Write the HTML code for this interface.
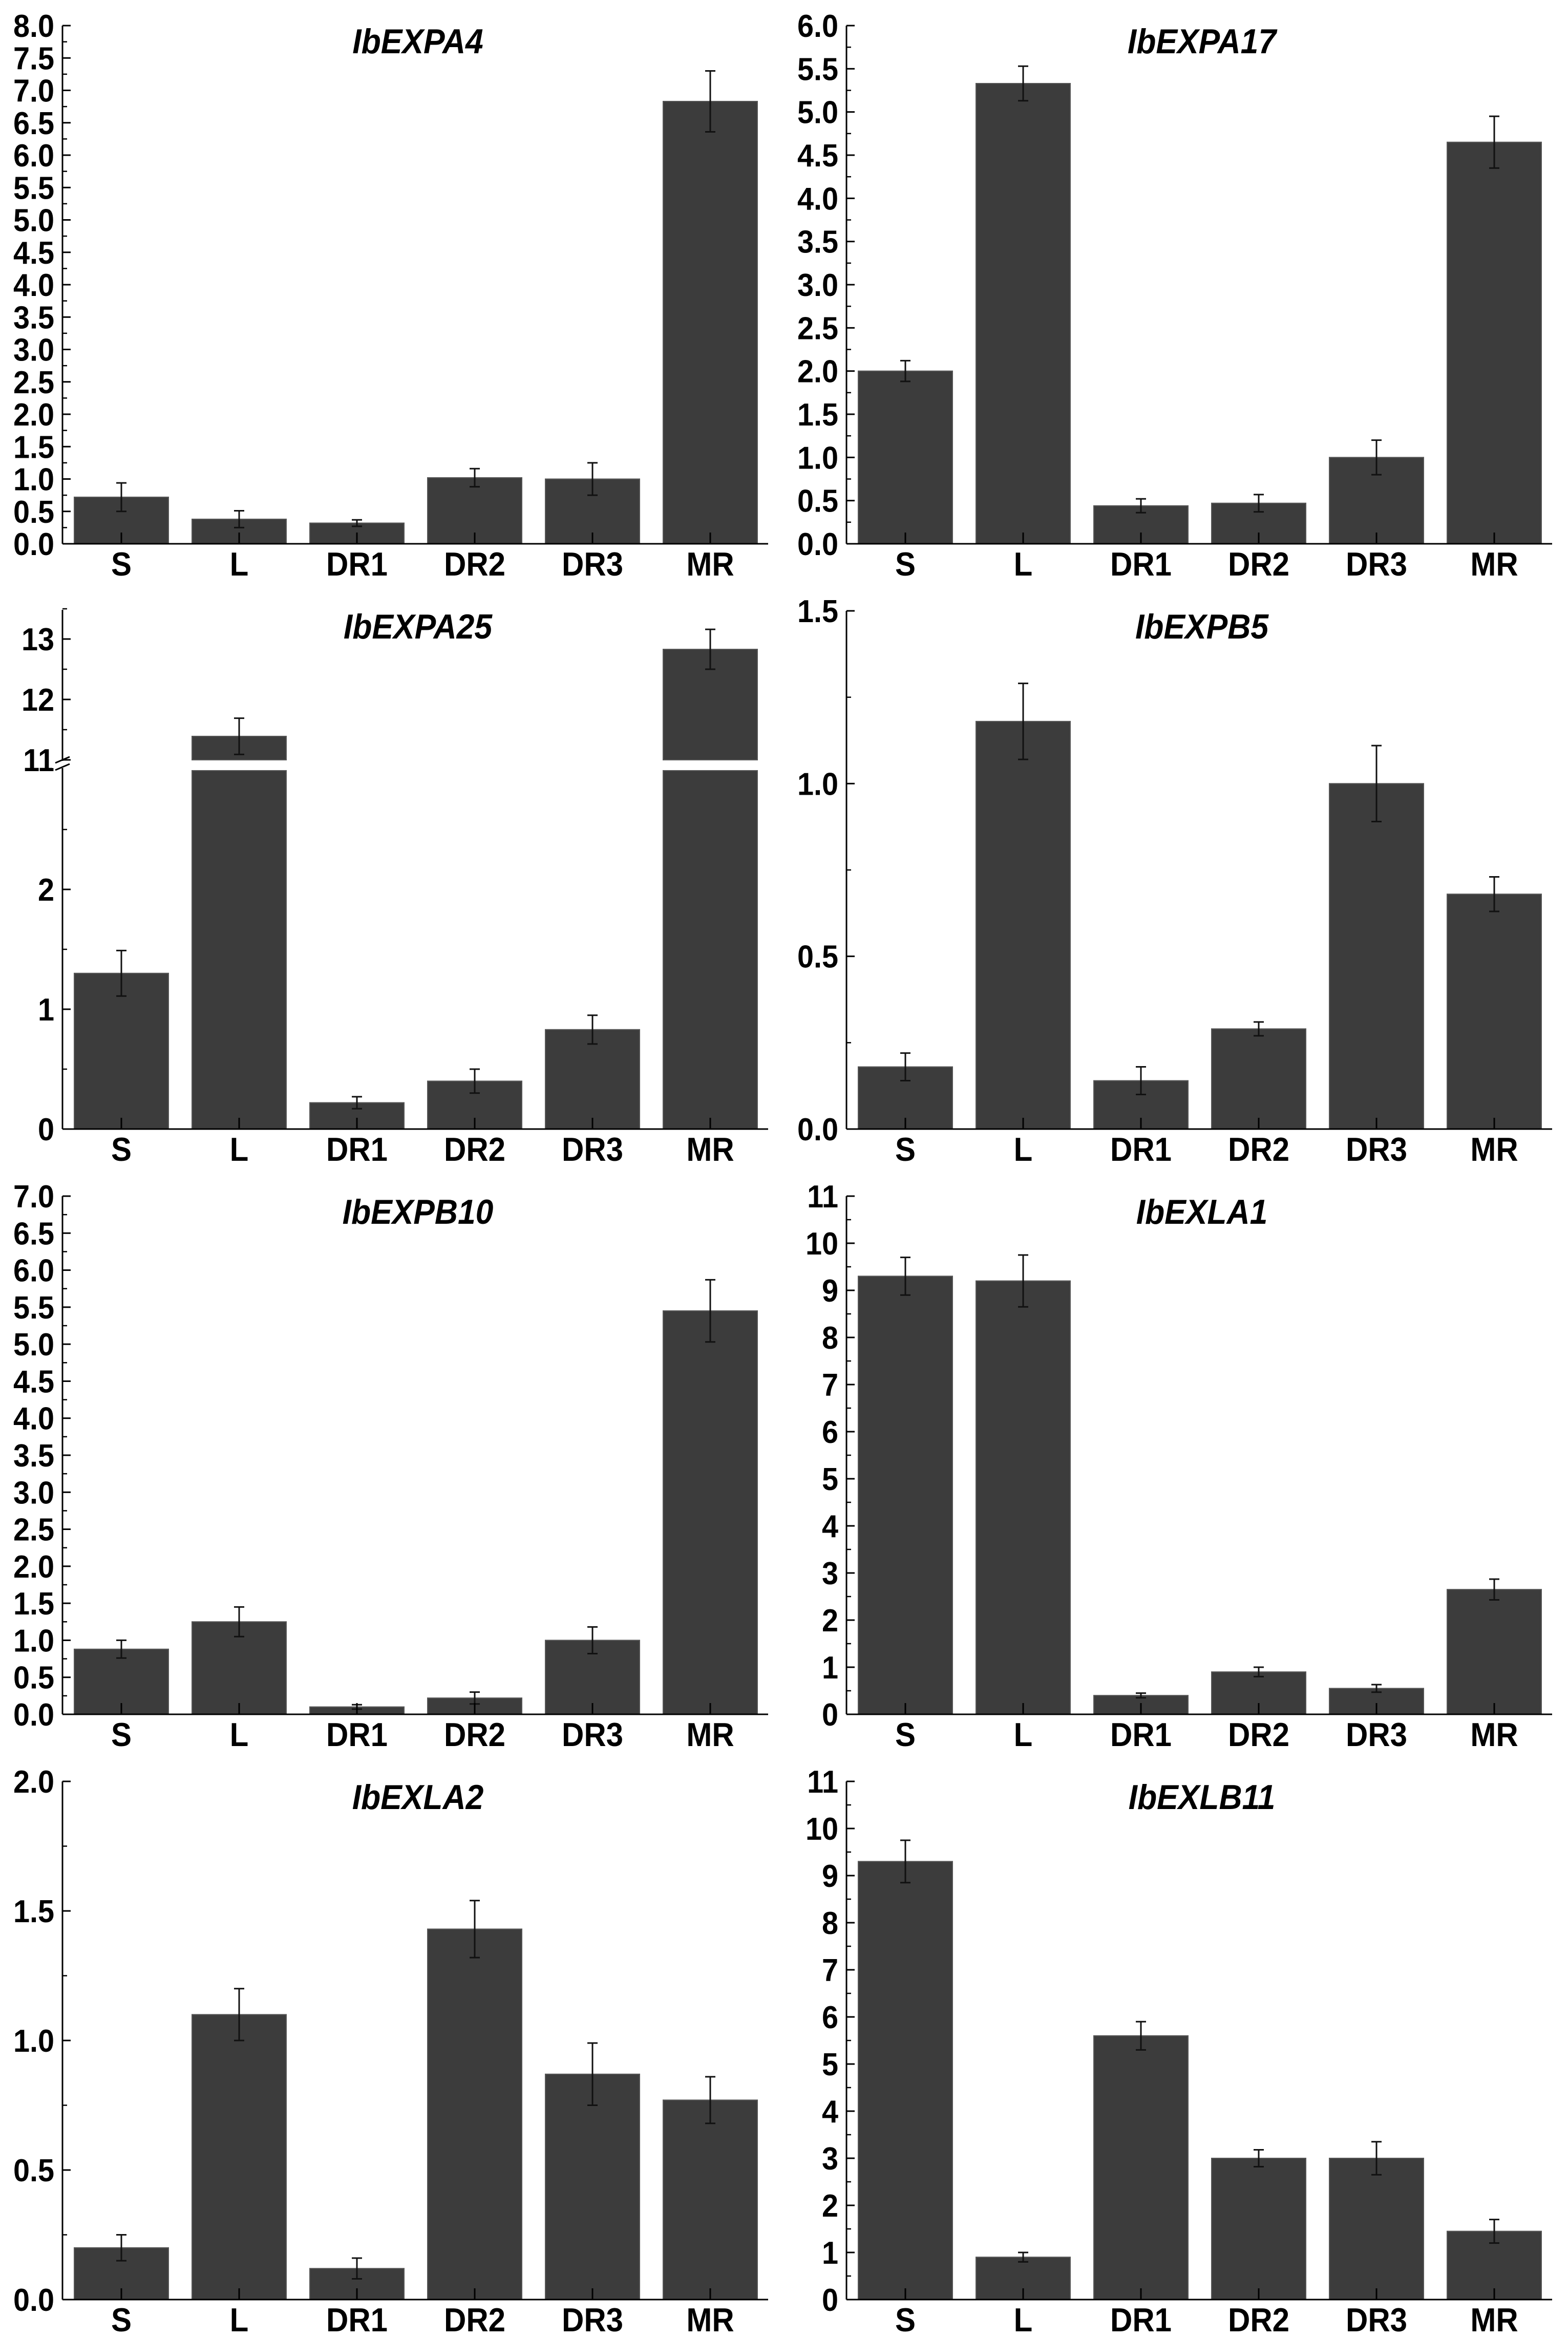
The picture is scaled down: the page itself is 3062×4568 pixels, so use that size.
<!DOCTYPE html>
<html><head><meta charset="utf-8"><style>
html,body{margin:0;padding:0;background:#fff;}
svg{display:block;}
text{font-family:"Liberation Sans",Arial,sans-serif;font-weight:bold;fill:#000;}
</style></head><body>
<svg id="fig" width="3062" height="4568" viewBox="0 0 3062 4568" xmlns="http://www.w3.org/2000/svg"></svg>
<script>
const categories = ["S","L","DR1","DR2","DR3","MR"];
const titles = ["IbEXPA4","IbEXPA17","IbEXPA25","IbEXPB5","IbEXPB10","IbEXLA1","IbEXLA2","IbEXLB11"];
const valsEXPA4 = [0.72,0.38,0.32,1.02,1.0,6.83];
const errsEXPA4 = [0.22,0.13,0.05,0.14,0.25,0.47];
const valsEXPA17 = [2.0,5.33,0.44,0.47,1.0,4.65];
const errsEXPA17 = [0.12,0.2,0.08,0.1,0.2,0.3];
const valsEXPA25 = [1.3,11.39,0.22,0.4,0.83,12.83];
const errsEXPA25 = [0.19,0.3,0.05,0.1,0.12,0.33];
const valsEXPB5 = [0.18,1.18,0.14,0.29,1.0,0.68];
const errsEXPB5 = [0.04,0.11,0.04,0.02,0.11,0.05];
const valsEXPB10 = [0.88,1.25,0.1,0.22,1.0,5.45];
const errsEXPB10 = [0.12,0.2,0.03,0.08,0.18,0.42];
const valsEXLA1 = [9.3,9.2,0.4,0.9,0.55,2.65];
const errsEXLA1 = [0.4,0.55,0.05,0.1,0.08,0.22];
const valsEXLA2 = [0.2,1.1,0.12,1.43,0.87,0.77];
const errsEXLA2 = [0.05,0.1,0.04,0.11,0.12,0.09];
const valsEXLB11 = [9.3,0.9,5.6,3.0,3.0,1.45];
const errsEXLB11 = [0.45,0.1,0.3,0.18,0.35,0.25];
const ticksA = [0,0.5,1,1.5,2,2.5,3,3.5,4,4.5,5,5.5,6,6.5,7,7.5,8];
const ticksB = [0,0.5,1,1.5,2,2.5,3,3.5,4,4.5,5,5.5,6];
const ticksC = [0,1,2];
const ticksCUpper = [11,12,13];
const ticksD = [0,0.5,1,1.5];
const ticksE = [0,0.5,1,1.5,2,2.5,3,3.5,4,4.5,5,5.5,6,6.5,7];
const ticksF = [0,1,2,3,4,5,6,7,8,9,10,11];
const ticksG = [0,0.5,1,1.5,2];

const NS="http://www.w3.org/2000/svg";
const svg=document.getElementById('fig');
function mk(tag,attrs,parent){const e=document.createElementNS(NS,tag);for(const k in attrs)e.setAttribute(k,attrs[k]);(parent||svg).appendChild(e);return e;}
function txt(str,x,y,anchor,size,italic,parent){
  const t=mk('text',{x:0,y:0,'text-anchor':anchor,'font-size':size,transform:`translate(${x},${y}) scale(1.2,1.3)`},parent);
  if(italic)t.setAttribute('font-style','italic');
  t.textContent=str;return t;
}
const H=1012, PITCH=230, BW=184;
const panels=[
 {t:0,v:valsEXPA4,e:errsEXPA4,ticks:ticksA,max:8,minor:0.25,dec:1},
 {t:1,v:valsEXPA17,e:errsEXPA17,ticks:ticksB,max:6,minor:0.25,dec:1},
 {t:2,v:valsEXPA25,e:errsEXPA25,ticks:ticksC,broken:true,dec:0},
 {t:3,v:valsEXPB5,e:errsEXPB5,ticks:ticksD,max:1.5,minor:0.25,dec:1},
 {t:4,v:valsEXPB10,e:errsEXPB10,ticks:ticksE,max:7,minor:0.25,dec:1},
 {t:5,v:valsEXLA1,e:errsEXLA1,ticks:ticksF,max:11,minor:0.5,dec:0},
 {t:6,v:valsEXLA2,e:errsEXLA2,ticks:ticksG,max:2,minor:0.25,dec:1},
 {t:7,v:valsEXLB11,e:errsEXLB11,ticks:ticksF,max:11,minor:0.5,dec:0}
];
panels.forEach((p,i)=>{
  const ox = i%2===0 ? 122 : 1653;
  const base = 1062 + Math.floor(i/2)*1143;
  const g=mk('g',{});
  
  
  let yv;
  if(p.broken){
    const lo=234, up=118, brk=1484;
    yv=v=> v<=3 ? base-v*lo : brk-(v-11)*up;
  } else {
    yv=v=> base - v/p.max*H;
  }
  const topY = p.broken ? 1191 : base-H;
  p.v.forEach((v,j)=>{
    const cx=ox+115+j*PITCH;
    if(p.broken && v>3){
      const b1=mk('rect',{x:cx-BW/2,y:base-3*234+2,width:BW,height:3*234-2,fill:'#3c3c3c',stroke:'#555','stroke-width':2},g);
      
      
      const yt=yv(v);
      const b2=mk('rect',{x:cx-BW/2,y:yt,width:BW,height:1484-yt,fill:'#3c3c3c',stroke:'#555','stroke-width':2},g);
      
      
    } else {
      const yt=yv(v);
      const b=mk('rect',{x:cx-BW/2,y:yt,width:BW,height:base-yt,fill:'#3c3c3c',stroke:'#555','stroke-width':2},g);
      
      
    }
    const y1=yv(v+p.e[j]), y2=yv(v-p.e[j]);
    const eb=mk('path',{d:`M${cx},${y1}V${y2}M${cx-10},${y1}H${cx+10}M${cx-10},${y2}H${cx+10}`,stroke:'#111','stroke-width':3,fill:'none'},g);
    
    
    mk('line',{x1:cx,y1:base,x2:cx,y2:base-22,stroke:'#000','stroke-width':3},g);
    const cl=txt(categories[j],cx,base+62,'middle',50,false,g);
    
    
  });
  const ya=mk('line',{x1:ox,y1:topY,x2:ox,y2:base,stroke:'#000','stroke-width':3},g);
  
  
  const xa=mk('line',{x1:ox,y1:base,x2:ox+1378,y2:base,stroke:'#000','stroke-width':3},g);
  
  
  const allTicks = p.broken ? ticksC.concat(ticksCUpper) : p.ticks;
  allTicks.forEach(t=>{
    const y=yv(t);
    mk('line',{x1:ox,y1:y,x2:ox+16,y2:y,stroke:'#000','stroke-width':3},g);
    const lab=txt(t.toFixed(p.dec),ox-16,y+22,'end',48,false,g);
    
    
  });
  const minors = p.broken ? [0.5,1.5,2.5,11.5,12.5,13.5] : [];
  if(!p.broken){ for(let m=p.minor;m<p.max;m+=p.minor*2) minors.push(m); }
  minors.forEach(m=>{const y=yv(m);mk('line',{x1:ox,y1:y,x2:ox+9,y2:y,stroke:'#000','stroke-width':2.5},g);});
  if(p.broken){
    mk('rect',{x:ox-20,y:1486,width:1400,height:14,fill:'#fff'},g);
    mk('path',{d:`M${ox-14},1490l28,-12M${ox-14},1504l28,-12`,stroke:'#000','stroke-width':3},g);
  }
  const tt=txt(titles[p.t],ox+694,base-958,'middle',52,true,g);
  
  
});
</script>
</body></html>
